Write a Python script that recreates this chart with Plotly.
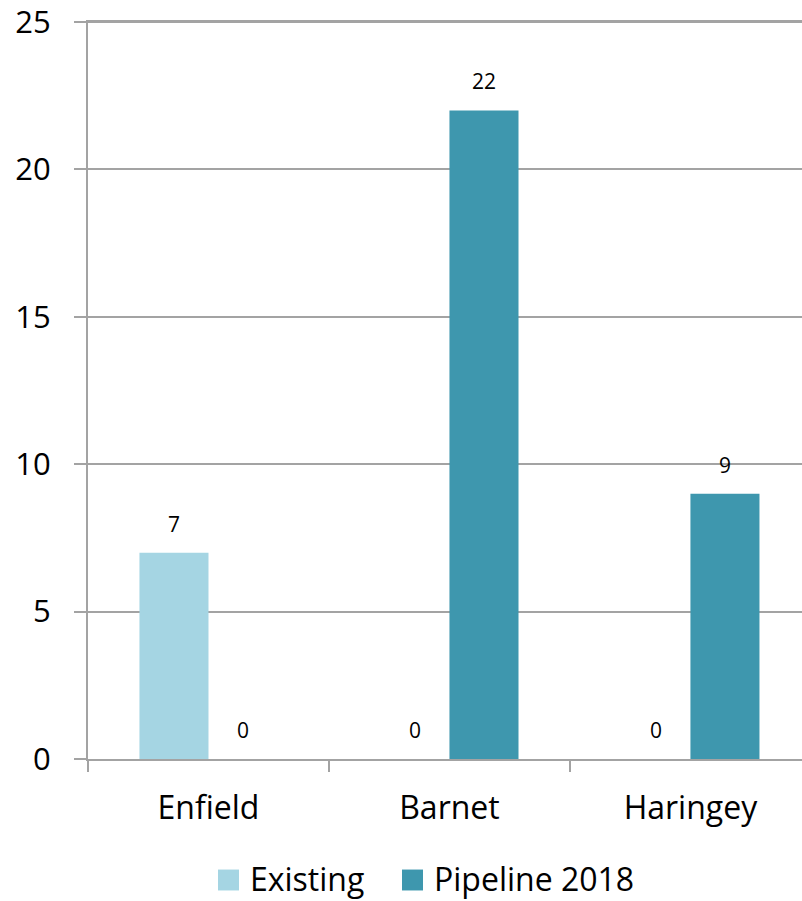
import plotly.graph_objects as go

boroughs = ["Enfield", "Barnet", "Haringey"]
existing = [7, 0, 0]
pipeline_2018 = [0, 22, 9]
y_ticks = [0, 5, 10, 15, 20, 25]

series = [
    ("Existing", existing, "#A5D5E3"),
    ("Pipeline 2018", pipeline_2018, "#3E97AE"),
]

FONT = "Open Sans"
GRID = "#A3A3A3"
BARGAP = 0.427
bar_w = (1 - BARGAP) / len(series)

W, H = 802, 901
ML, MR, MT, MB = 88, 0, 19, 142
plot_w = W - ML - MR
plot_h = H - MT - MB


def px_x(px):
    return (px - ML) / plot_w


def px_y(py):
    return (H - MB - py) / plot_h


fig = go.Figure()
for name, vals, color in series:
    fig.add_trace(go.Bar(
        name=name, x=boroughs, y=vals, showlegend=False,
        marker=dict(color=color, line=dict(width=0)),
    ))

# value labels above each bar
for j, (name, vals, color) in enumerate(series):
    offset = (j - (len(series) - 1) / 2) * bar_w
    for i, v in enumerate(vals):
        fig.add_annotation(
            x=i + offset, y=v, xref="x", yref="y",
            text=str(v), showarrow=False, yanchor="bottom",
            yshift=13, font=dict(family=FONT, size=21, color="#000000"),
        )

# top gridline (value 25) sits on the upper edge of the plot area,
# so it is drawn in paper space where it is not clipped
fig.add_shape(
    type="line", xref="paper", yref="paper",
    x0=0, x1=1, y0=1, y1=1,
    line=dict(color=GRID, width=2), layer="above",
)

# legend row below the axis: colour swatch followed by series name
legend_x = [218, 402]
for (name, vals, color), lx in zip(series, legend_x):
    fig.add_shape(
        type="rect", xref="paper", yref="paper",
        x0=px_x(lx), x1=px_x(lx + 21), y0=px_y(891), y1=px_y(870),
        fillcolor=color, line=dict(width=0),
    )
    fig.add_annotation(
        x=px_x(lx + 30), y=px_y(879), xref="paper", yref="paper",
        text=name, showarrow=False, xanchor="left", yanchor="middle",
        font=dict(family=FONT, size=32, color="#000000"),
    )

fig.update_layout(
    width=W, height=H,
    margin=dict(l=ML, r=MR, t=MT, b=MB),
    paper_bgcolor="white", plot_bgcolor="white",
    barmode="group", bargap=BARGAP, bargroupgap=0,
    font=dict(family=FONT, color="#000000"),
    showlegend=False,
)
fig.update_xaxes(
    type="category", range=[-0.5, 2.463],
    showline=True, linecolor=GRID, linewidth=2, mirror=True,
    ticks="outside", tickson="boundaries", ticklen=11, tickwidth=2, tickcolor=GRID,
    tickfont=dict(family=FONT, size=32), ticklabelstandoff=20,
    showgrid=False,
)
fig.update_yaxes(
    range=[0, 25], tickvals=y_ticks,
    showline=True, linecolor=GRID, linewidth=2,
    ticks="outside", ticklen=12, tickwidth=2, tickcolor=GRID,
    showgrid=True, gridcolor=GRID, gridwidth=2, zeroline=False,
    tickfont=dict(family=FONT, size=31), ticklabelstandoff=17,
    ticklabeloverflow="allow",
)

fig.write_html("out.html")
